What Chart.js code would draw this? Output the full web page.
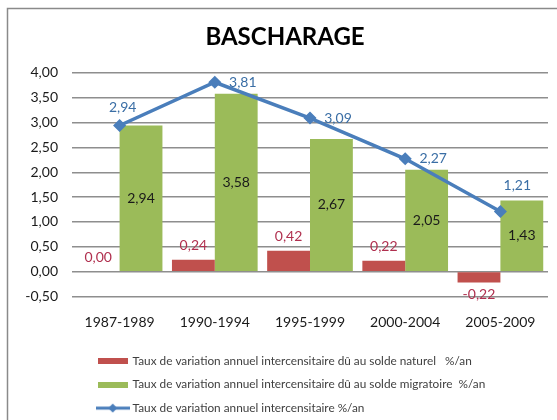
<!DOCTYPE html>
<html>
<head>
<meta charset="utf-8">
<script src="https://cdn.jsdelivr.net/npm/chart.js@4/dist/chart.umd.min.js"></script>
<style>
  body { margin: 0; background: #fff; }
  #wrap { width: 557px; height: 420px; }
</style>
</head>
<body>
<div id="wrap"><canvas id="chart" width="557" height="420"></canvas></div>
<script>
const categories = ['1987-1989', '1990-1994', '1995-1999', '2000-2004', '2005-2009'];
const soldeNaturel = [0.00, 0.24, 0.42, 0.22, -0.22];
const soldeMigratoire = [2.94, 3.58, 2.67, 2.05, 1.43];
const tauxTotal = [2.94, 3.81, 3.09, 2.27, 1.21];
const seriesNames = [
    'Taux de variation annuel intercensitaire dû au solde naturel   %/an',
    'Taux de variation annuel intercensitaire dû au solde migratoire  %/an',
    'Taux de variation annuel intercensitaire %/an'
];
const yMin = -0.5, yMax = 4, yStep = 0.5;

const RED = '#C0504D', GREEN = '#9BBB59', BLUE = '#4A7EBB';
const FONT = 'Lato';

function fmt(v) {
    return v.toFixed(2).replace('.', ',');
}

// little canvases used as legend symbols
function boxIcon(color) {
    let c = document.createElement('canvas');
    c.width = 30; c.height = 6;
    let g = c.getContext('2d');
    g.fillStyle = color;
    g.fillRect(0, 0, 30, 6);
    return c;
}
function lineIcon(color) {
    let c = document.createElement('canvas');
    c.width = 34; c.height = 10;
    let g = c.getContext('2d');
    g.strokeStyle = color;
    g.lineWidth = 3;
    g.beginPath(); g.moveTo(0, 5); g.lineTo(34, 5); g.stroke();
    g.fillStyle = color;
    g.beginPath(); g.moveTo(17, 0.5); g.lineTo(21.5, 5); g.lineTo(17, 9.5); g.lineTo(12.5, 5); g.closePath(); g.fill();
    return c;
}
const legendIcons = [boxIcon(RED), boxIcon(GREEN), lineIcon(BLUE)];

// frame around the whole chart
const framePlugin = {
    id: 'frame',
    beforeDraw(chart) {
        let ctx = chart.ctx;
        ctx.save();
        ctx.fillStyle = '#fff';
        ctx.fillRect(0, 0, chart.width, chart.height);
        ctx.strokeStyle = '#8a8a8a';
        ctx.lineWidth = 1.5;
        ctx.strokeRect(7.5, 8.5, 700, 600);
        ctx.restore();
    }
};

// push the legend block to the right so its rows start under the plot,
// and nudge the title a bit (the original frame is wider than the picture)
const blockShift = {
    id: 'blockShift',
    afterLayout(chart) {
        chart.legend.left += 73;
        chart.legend.right += 73;
        chart.titleBlock.left += 4;
        chart.titleBlock.right += 4;
    }
};

// value labels, excel style
const valueLabels = {
    id: 'valueLabels',
    afterDatasetsDraw(chart) {
        let ctx = chart.ctx;
        ctx.save();
        ctx.font = '14px ' + FONT;
        ctx.textAlign = 'center';
        ctx.textBaseline = 'middle';
        chart.data.datasets.forEach((ds, i) => {
            let meta = chart.getDatasetMeta(i);
            meta.data.forEach((el, j) => {
                let v = ds.data[j];
                let x = el.x, y = el.y;
                if (ds.labelMode == 'end') {
                    y = v >= 0 ? el.y - 14 : el.y + 12;
                } else if (ds.labelMode == 'center') {
                    y = (el.y + el.base) / 2;
                } else if (ds.labelMode == 'angle') {
                    let a = ds.labelAngle[j] * Math.PI / 180;
                    x = el.x + Math.cos(a) * ds.labelDist[j];
                    y = el.y + Math.sin(a) * ds.labelDist[j];
                }
                ctx.fillStyle = ds.labelColor;
                ctx.fillText(fmt(v), x, y);
            });
        });
        ctx.restore();
    }
};

new Chart(document.getElementById('chart'), {
    type: 'bar',
    data: {
        labels: categories,
        datasets: [{
                label: seriesNames[0],
                data: soldeNaturel,
                backgroundColor: RED,
                order: 1,
                labelMode: 'end',
                labelColor: '#B0304F'
            },
            {
                label: seriesNames[1],
                data: soldeMigratoire,
                backgroundColor: GREEN,
                order: 1,
                labelMode: 'center',
                labelColor: '#1a1a1a'
            },
            {
                type: 'line',
                label: seriesNames[2],
                data: tauxTotal,
                borderColor: BLUE,
                backgroundColor: BLUE,
                borderWidth: 3.5,
                pointStyle: 'rectRot',
                pointRadius: 5.5,
                pointBorderWidth: 1.5,
                order: 0,
                labelMode: 'angle',
                labelAngle: [-80, 0, 0, 0, -57],
                labelDist: [18, 28, 28, 28, 31],
                labelColor: '#3A6EA5'
            }
        ]
    },
    options: {
        responsive: false,
        animation: false,
        events: [],
        layout: {
            padding: { top: 8, left: 14, right: 9, bottom: -4 }
        },
        datasets: {
            bar: { categoryPercentage: 0.9, barPercentage: 1.0 }
        },
        scales: {
            x: {
                grid: { display: false, drawTicks: false },
                border: { display: false },
                ticks: {
                    padding: 18,
                    color: '#1a1a1a',
                    font: { family: FONT, size: 14 }
                },
                afterFit(s) { s.height = 47; }
            },
            y: {
                min: yMin,
                max: yMax,
                grid: { color: '#8e8e8e', lineWidth: 1.4, drawTicks: false },
                border: { display: false },
                ticks: {
                    stepSize: yStep,
                    padding: 14,
                    color: '#1a1a1a',
                    font: { family: FONT, size: 14 },
                    callback: v => fmt(v)
                },
                afterFit(s) { s.width = 58; }
            }
        },
        plugins: {
            title: {
                display: true,
                text: 'BASCHARAGE',
                color: '#000',
                font: { family: FONT, size: 24, weight: 'bold' },
                padding: { top: 15, bottom: 21 }
            },
            legend: {
                position: 'bottom',
                align: 'start',
                labels: {
                    usePointStyle: true,
                    pointStyleWidth: 28,
                    padding: 11.7,
                    color: '#404040',
                    font: { family: FONT, size: 11.8 },
                    generateLabels: chart => chart.data.datasets.map((ds, i) => ({
                        text: ds.label,
                        pointStyle: legendIcons[i],
                        datasetIndex: i,
                        fontColor: '#404040',
                        hidden: false,
                        lineWidth: 0,
                        strokeStyle: 'transparent',
                        fillStyle: 'transparent'
                    }))
                }
            },
            tooltip: { enabled: false }
        }
    },
    plugins: [framePlugin, blockShift, valueLabels]
});
</script>
</body>
</html>
